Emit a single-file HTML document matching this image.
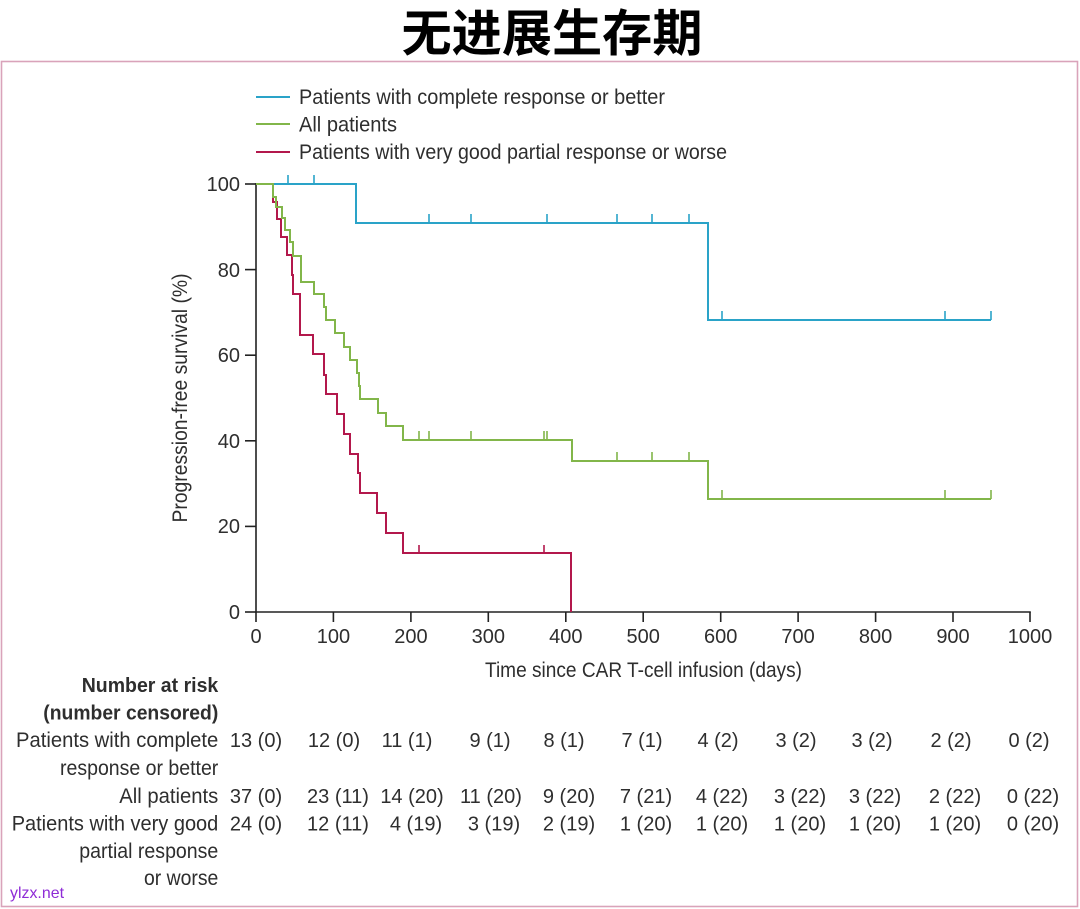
<!DOCTYPE html>
<html>
<head>
<meta charset="utf-8">
<style>
  html, body { margin: 0; padding: 0; background: #ffffff; }
  body { width: 1080px; height: 909px; overflow: hidden; }
  svg { display: block; }
  .t { font-family: "Liberation Sans", "DejaVu Sans", sans-serif; fill: #2e2e2e; }
</style>
</head>
<body>
<svg width="1080" height="909" viewBox="0 0 1080 909" xmlns="http://www.w3.org/2000/svg">
  <rect x="0" y="0" width="1080" height="909" fill="#ffffff"/>

  <!-- Title -->
  <text x="552" y="51" text-anchor="middle" font-family="'Liberation Sans','Noto Sans CJK SC',sans-serif" font-weight="bold" font-size="50" fill="#000" textLength="301" lengthAdjust="spacingAndGlyphs">无进展生存期</text>

  <!-- Pink frame -->
  <rect x="1.5" y="61.5" width="1076" height="845" fill="none" stroke="#d9a3ba" stroke-width="1.6"/>

  <!-- Legend -->
  <line x1="256" y1="97" x2="290" y2="97" stroke="#2aa3c8" stroke-width="2"/>
  <line x1="256" y1="124" x2="290" y2="124" stroke="#82b64a" stroke-width="2"/>
  <line x1="256" y1="152" x2="290" y2="152" stroke="#b3184c" stroke-width="2"/>
  <text class="t" x="299" y="104" font-size="21" textLength="366" lengthAdjust="spacingAndGlyphs">Patients with complete response or better</text>
  <text class="t" x="299" y="131.5" font-size="21" textLength="98" lengthAdjust="spacingAndGlyphs">All patients</text>
  <text class="t" x="299" y="159" font-size="21" textLength="428" lengthAdjust="spacingAndGlyphs">Patients with very good partial response or worse</text>

  <!-- Axes -->
  <g stroke="#222" stroke-width="1.6" fill="none">
    <line x1="256" y1="183" x2="256" y2="612.8"/>
    <line x1="255.2" y1="612" x2="1030.8" y2="612"/>
    <!-- y ticks -->
    <line x1="245" y1="184" x2="256" y2="184"/>
    <line x1="245" y1="269.6" x2="256" y2="269.6"/>
    <line x1="245" y1="355.2" x2="256" y2="355.2"/>
    <line x1="245" y1="440.8" x2="256" y2="440.8"/>
    <line x1="245" y1="526.4" x2="256" y2="526.4"/>
    <line x1="245" y1="612" x2="256" y2="612"/>
    <!-- x ticks -->
    <line x1="256" y1="612" x2="256" y2="622"/>
    <line x1="333.4" y1="612" x2="333.4" y2="622"/>
    <line x1="410.9" y1="612" x2="410.9" y2="622"/>
    <line x1="488.3" y1="612" x2="488.3" y2="622"/>
    <line x1="565.8" y1="612" x2="565.8" y2="622"/>
    <line x1="643.2" y1="612" x2="643.2" y2="622"/>
    <line x1="720.7" y1="612" x2="720.7" y2="622"/>
    <line x1="798.1" y1="612" x2="798.1" y2="622"/>
    <line x1="875.6" y1="612" x2="875.6" y2="622"/>
    <line x1="953" y1="612" x2="953" y2="622"/>
    <line x1="1030" y1="612" x2="1030" y2="622"/>
  </g>

  <!-- Y tick labels -->
  <g class="t" font-size="20" text-anchor="end">
    <text x="240" y="191">100</text>
    <text x="240" y="277">80</text>
    <text x="240" y="362">60</text>
    <text x="240" y="448">40</text>
    <text x="240" y="533">20</text>
    <text x="240" y="619">0</text>
  </g>

  <!-- X tick labels -->
  <g class="t" font-size="20" text-anchor="middle">
    <text x="256" y="643">0</text>
    <text x="333.4" y="643">100</text>
    <text x="410.9" y="643">200</text>
    <text x="488.3" y="643">300</text>
    <text x="565.8" y="643">400</text>
    <text x="643.2" y="643">500</text>
    <text x="720.7" y="643">600</text>
    <text x="798.1" y="643">700</text>
    <text x="875.6" y="643">800</text>
    <text x="953" y="643">900</text>
    <text x="1030" y="643">1000</text>
  </g>

  <!-- Axis titles -->
  <text class="t" x="485" y="677" font-size="21" textLength="317" lengthAdjust="spacingAndGlyphs">Time since CAR T-cell infusion (days)</text>
  <text class="t" transform="translate(187,398) rotate(-90)" x="0" y="0" font-size="21" text-anchor="middle" textLength="249" lengthAdjust="spacingAndGlyphs">Progression-free survival (%)</text>

  <!-- Curves -->
  <g fill="none" stroke-width="2" stroke-linejoin="miter" stroke-linecap="butt">
    <!-- Red -->
    <path stroke="#b3184c" d="M256,184 H273 V202 H277 V219 H281 V237 H287 V255 H292 V275 H293 V294 H300 V335 H313 V354 H324 V375 H326 V394 H337 V414 H344 V434 H350 V454 H358 V473 H360 V493 H377 V513 H386 V533 H403 V553 H571 V612"/>
    <path stroke="#b3184c" stroke-width="1.6" d="M419,553 V545 M544,553 V545"/>
    <!-- Blue -->
    <path stroke="#2aa3c8" d="M256,184 H356 V223 H708 V320 H991"/>
    <path stroke="#2aa3c8" stroke-width="1.6" d="M288,184 V175 M314,184 V175 M429,223 V214 M471,223 V214 M547,223 V214 M617,223 V214 M652,223 V214 M689,223 V214 M722,320 V311 M945,320 V311 M991,320 V311"/>
    <!-- Green -->
    <path stroke="#82b64a" d="M256,184 H273 V197 H276 V207 H282 V218 H285 V230 H290 V242 H293 V256 H301 V282 H314 V294 H324 V307 H326 V320 H335 V333 H344 V347 H350 V360 H357 V373 H359 V386 H360 V399 H378 V413 H386 V426 H403 V440 H572 V461 H708 V499 H991"/>
    <path stroke="#82b64a" stroke-width="1.6" d="M419,440 V431 M429,440 V431 M471,440 V431 M544,440 V431 M547,440 V431 M617,461 V452 M652,461 V452 M689,461 V452 M722,499 V490 M945,499 V490 M991,499 V490"/>
  </g>

  <!-- Number at risk labels -->
  <text class="t" x="81.7" y="692" font-size="20" font-weight="bold" textLength="136.6" lengthAdjust="spacingAndGlyphs">Number at risk</text>
  <text class="t" x="43.3" y="719.5" font-size="20" font-weight="bold" textLength="175" lengthAdjust="spacingAndGlyphs">(number censored)</text>
  <text class="t" x="16" y="747" font-size="21" textLength="202.3" lengthAdjust="spacingAndGlyphs">Patients with complete</text>
  <text class="t" x="60" y="775" font-size="21" textLength="158.3" lengthAdjust="spacingAndGlyphs">response or better</text>
  <text class="t" x="119.3" y="803" font-size="21" textLength="99" lengthAdjust="spacingAndGlyphs">All patients</text>
  <text class="t" x="11.7" y="830.5" font-size="21" textLength="206.6" lengthAdjust="spacingAndGlyphs">Patients with very good</text>
  <text class="t" x="79.3" y="858" font-size="21" textLength="139" lengthAdjust="spacingAndGlyphs">partial response</text>
  <text class="t" x="144" y="885" font-size="21" textLength="74.3" lengthAdjust="spacingAndGlyphs">or worse</text>

  <!-- Row 1 numbers -->
  <g class="t" font-size="20" text-anchor="middle">
    <text x="256" y="747">13 (0)</text>
    <text x="334" y="747">12 (0)</text>
    <text x="407" y="747">11 (1)</text>
    <text x="490" y="747">9 (1)</text>
    <text x="564" y="747">8 (1)</text>
    <text x="642" y="747">7 (1)</text>
    <text x="718" y="747">4 (2)</text>
    <text x="796" y="747">3 (2)</text>
    <text x="872" y="747">3 (2)</text>
    <text x="951" y="747">2 (2)</text>
    <text x="1029" y="747">0 (2)</text>
  </g>
  <!-- Row 2 numbers -->
  <g class="t" font-size="20" text-anchor="middle">
    <text x="256" y="803">37 (0)</text>
    <text x="338" y="803">23 (11)</text>
    <text x="412" y="803">14 (20)</text>
    <text x="491" y="803">11 (20)</text>
    <text x="569" y="803">9 (20)</text>
    <text x="646" y="803">7 (21)</text>
    <text x="722" y="803">4 (22)</text>
    <text x="800" y="803">3 (22)</text>
    <text x="875" y="803">3 (22)</text>
    <text x="955" y="803">2 (22)</text>
    <text x="1033" y="803">0 (22)</text>
  </g>
  <!-- Row 3 numbers -->
  <g class="t" font-size="20" text-anchor="middle">
    <text x="256" y="830.5">24 (0)</text>
    <text x="338" y="830.5">12 (11)</text>
    <text x="416" y="830.5">4 (19)</text>
    <text x="494" y="830.5">3 (19)</text>
    <text x="569" y="830.5">2 (19)</text>
    <text x="646" y="830.5">1 (20)</text>
    <text x="722" y="830.5">1 (20)</text>
    <text x="800" y="830.5">1 (20)</text>
    <text x="875" y="830.5">1 (20)</text>
    <text x="955" y="830.5">1 (20)</text>
    <text x="1033" y="830.5">0 (20)</text>
  </g>

  <!-- Watermark -->
  <text x="10" y="898" font-family="'Liberation Sans',sans-serif" font-size="16" fill="#8e2bd6" textLength="54" lengthAdjust="spacingAndGlyphs">ylzx.net</text>
</svg>
</body>
</html>
